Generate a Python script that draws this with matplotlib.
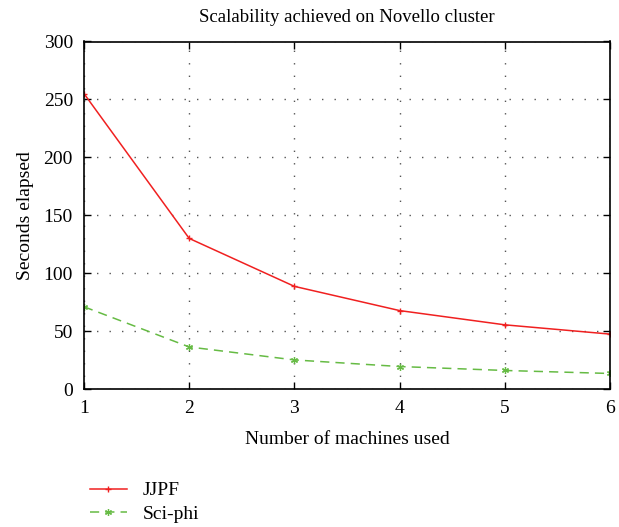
import matplotlib
matplotlib.use("Agg")
import matplotlib.pyplot as plt

machines = [1, 2, 3, 4, 5, 6]
jjpf = [255, 130, 88.6, 67.7, 55.4, 47.4]
sciphi = [71, 36.3, 25.1, 19.4, 16, 13.4]
series_names = ["JJPF", "Sci-phi"]
xticks = [1, 2, 3, 4, 5, 6]
yticks = [0, 50, 100, 150, 200, 250, 300]

plt.rcParams['font.family'] = ['Liberation Serif', 'DejaVu Serif']
plt.rcParams['font.size'] = 14

W, H = 619, 527
fig = plt.figure(figsize=(W / 100, H / 100), dpi=100)
left, right, top, bottom = 84, 610, 41.5, 389
ax = fig.add_axes([left / W, 1 - bottom / H, (right - left) / W, (bottom - top) / H])

ax.plot(machines, jjpf, color="#f02020", lw=1.1, marker="+", ms=5, mew=1.0, label=series_names[0])
ax.plot(machines, sciphi, color="#66bb44", lw=1.1, ls=(0, (6, 4)), marker=(6, 2, 0), ms=5, mew=0.9,
        label=series_names[1])

ax.set_xlim(1, 6)
ax.set_ylim(0, 300)
ax.set_xticks(xticks)
ax.set_yticks(yticks)
ax.tick_params(direction="in", top=True, right=True, length=5, width=1, labelsize=14, pad=8)
ax.grid(True, color="#555555", linestyle=(0, (1, 8)), linewidth=1.0)
for s in ax.spines.values():
    s.set_linewidth(1.2)
    s.set_color("black")

ax.set_title("Scalability achieved on Novello cluster", fontsize=13.5, pad=14)
ax.set_xlabel("Number of machines used", fontsize=14, labelpad=10)
ax.set_ylabel("Seconds elapsed", fontsize=14, labelpad=7)

fig.legend(loc="upper left", bbox_to_anchor=(82 / W, 1 - 474 / H), frameon=False,
           handlelength=1.9, handletextpad=0.8, labelspacing=0.3, fontsize=14, borderaxespad=0)

fig.savefig("out.png", dpi=100)
